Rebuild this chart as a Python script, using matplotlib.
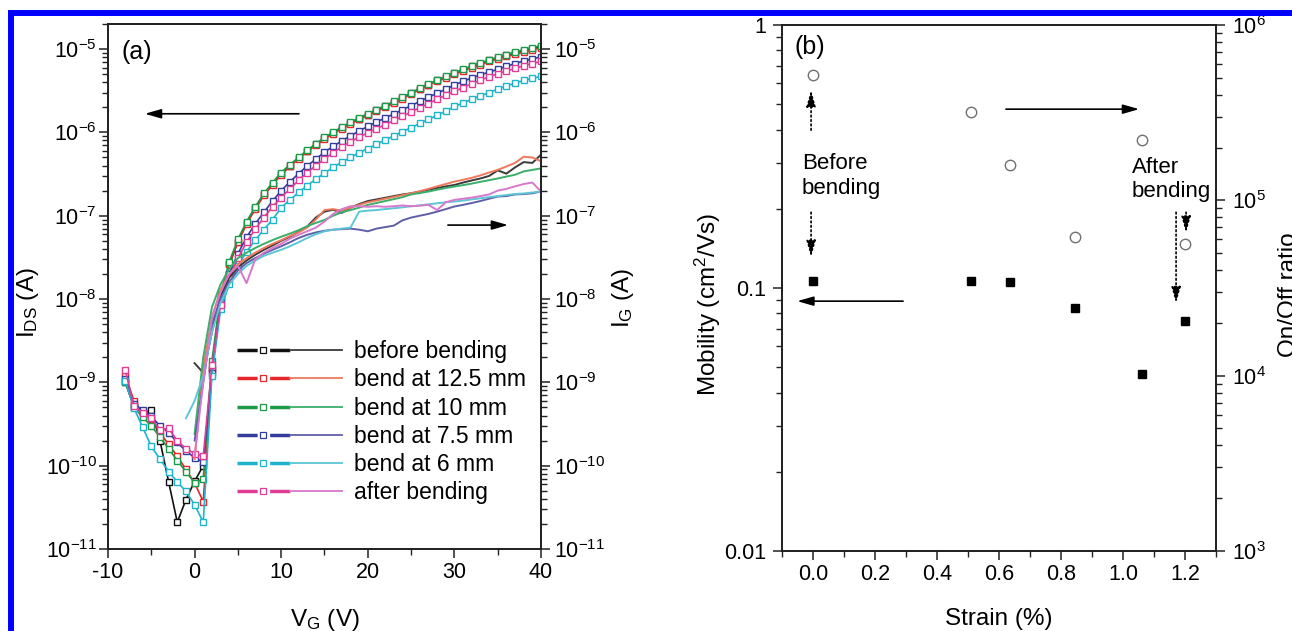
"""Transfer curves under bending (a) and mobility / on-off ratio vs strain (b)."""

import matplotlib

matplotlib.use("Agg")
import matplotlib.pyplot as plt
import numpy as np
from matplotlib.legend_handler import HandlerTuple
from matplotlib.lines import Line2D
from matplotlib.patches import Rectangle
from matplotlib.ticker import (
    FixedLocator,
    FuncFormatter,
    LogFormatterMathtext,
    LogLocator,
    MultipleLocator,
    NullFormatter,
)

plt.rcParams["font.family"] = ["Liberation Sans", "DejaVu Sans"]
plt.rcParams["mathtext.fontset"] = "custom"
plt.rcParams["mathtext.rm"] = "Liberation Sans"
plt.rcParams["mathtext.it"] = "Liberation Sans:italic"
plt.rcParams["mathtext.bf"] = "Liberation Sans:bold"
plt.rcParams["mathtext.default"] = "regular"
plt.rcParams["axes.unicode_minus"] = False

# ---- panel (a): I_DS and I_G vs V_G ----
vg_ds = list(range(-8, 41))
vg_ig = list(range(-1, 41))
series_labels = [
    "before bending",
    "bend at 12.5 mm",
    "bend at 10 mm",
    "bend at 7.5 mm",
    "bend at 6 mm",
    "after bending",
]

ids_before = [1.0e-9, 5.1e-10, 4.3e-10, 4.6e-10, 2.0e-10, 6.4e-11, 2.1e-11, 3.9e-11, 6.5e-11, 1.0e-10,
              1.5e-9, 1.05e-8, 2.6e-8, 4.9e-8, 8.1e-8, 1.23e-7, 1.8e-7, 2.4e-7, 3.2e-7, 4.0e-7,
              4.9e-7, 6.0e-7, 7.2e-7, 8.5e-7, 9.9e-7, 1.13e-6, 1.29e-6, 1.46e-6, 1.64e-6, 1.84e-6,
              2.05e-6, 2.3e-6, 2.6e-6, 2.95e-6, 3.35e-6, 3.75e-6, 4.2e-6, 4.65e-6, 5.1e-6, 5.6e-6,
              6.2e-6, 6.7e-6, 7.3e-6, 7.8e-6, 8.4e-6, 8.9e-6, 9.5e-6, 1.01e-5, 1.07e-5]
ids_12p5 = [1.2e-9, 6.0e-10, 4.4e-10, 3.6e-10, 2.5e-10, 1.8e-10, 1.3e-10, 9.0e-11, 6.2e-11, 3.7e-11,
            1.4e-9, 1.0e-8, 2.6e-8, 4.8e-8, 8.0e-8, 1.2e-7, 1.75e-7, 2.35e-7, 3.1e-7, 3.9e-7,
            4.8e-7, 5.9e-7, 7.0e-7, 8.3e-7, 9.7e-7, 1.11e-6, 1.27e-6, 1.43e-6, 1.61e-6, 1.8e-6,
            2.0e-6, 2.25e-6, 2.55e-6, 2.9e-6, 3.3e-6, 3.7e-6, 4.1e-6, 4.55e-6, 5.0e-6, 5.5e-6,
            6.0e-6, 6.5e-6, 7.1e-6, 7.6e-6, 8.2e-6, 8.7e-6, 9.3e-6, 9.8e-6, 1.04e-5]
ids_10 = [1.0e-9, 5.0e-10, 3.8e-10, 3.0e-10, 2.2e-10, 1.6e-10, 1.15e-10, 8.5e-11, 6.2e-11, 7.0e-11,
          1.8e-9, 1.15e-8, 2.8e-8, 5.2e-8, 8.5e-8, 1.28e-7, 1.85e-7, 2.5e-7, 3.3e-7, 4.1e-7,
          5.0e-7, 6.1e-7, 7.3e-7, 8.7e-7, 1.01e-6, 1.16e-6, 1.32e-6, 1.5e-6, 1.68e-6, 1.88e-6,
          2.1e-6, 2.35e-6, 2.65e-6, 3.0e-6, 3.4e-6, 3.8e-6, 4.25e-6, 4.7e-6, 5.2e-6, 5.7e-6,
          6.3e-6, 6.8e-6, 7.4e-6, 8.0e-6, 8.6e-6, 9.2e-6, 9.8e-6, 1.04e-5, 1.1e-5]
ids_7p5 = [1.1e-9, 5.5e-10, 4.6e-10, 3.9e-10, 3.0e-10, 2.5e-10, 1.9e-10, 1.5e-10, 1.25e-10, 1.1e-10,
           1.3e-9, 9.0e-9, 2.0e-8, 3.5e-8, 5.5e-8, 8.0e-8, 1.1e-7, 1.5e-7, 2.0e-7, 2.55e-7,
           3.2e-7, 3.95e-7, 4.8e-7, 5.8e-7, 6.8e-7, 7.9e-7, 9.1e-7, 1.04e-6, 1.18e-6, 1.33e-6,
           1.49e-6, 1.67e-6, 1.87e-6, 2.1e-6, 2.35e-6, 2.65e-6, 2.95e-6, 3.3e-6, 3.7e-6, 4.1e-6,
           4.5e-6, 4.9e-6, 5.3e-6, 5.7e-6, 6.2e-6, 6.7e-6, 7.2e-6, 7.6e-6, 8.1e-6]
ids_6 = [1.05e-9, 4.9e-10, 2.9e-10, 1.7e-10, 1.2e-10, 8.5e-11, 6.4e-11, 4.9e-11, 3.4e-11, 2.1e-11,
         1.2e-9, 7.5e-9, 1.5e-8, 2.5e-8, 3.7e-8, 5.1e-8, 6.8e-8, 9.0e-8, 1.25e-7, 1.55e-7,
         1.9e-7, 2.3e-7, 2.75e-7, 3.25e-7, 3.8e-7, 4.4e-7, 5.0e-7, 5.7e-7, 6.4e-7, 7.2e-7,
         8.1e-7, 9.1e-7, 1.02e-6, 1.14e-6, 1.28e-6, 1.43e-6, 1.6e-6, 1.8e-6, 2.05e-6, 2.25e-6,
         2.5e-6, 2.75e-6, 3.0e-6, 3.3e-6, 3.6e-6, 3.9e-6, 4.2e-6, 4.45e-6, 4.7e-6]
ids_after = [1.4e-9, 5.2e-10, 4.3e-10, 3.7e-10, 2.7e-10, 2.8e-10, 2.0e-10, 1.6e-10, 1.4e-10, 1.3e-10,
             1.6e-9, 8.5e-9, 1.8e-8, 3.1e-8, 4.8e-8, 6.9e-8, 9.5e-8, 1.28e-7, 1.65e-7, 2.1e-7,
             2.65e-7, 3.3e-7, 4.0e-7, 4.8e-7, 5.7e-7, 6.7e-7, 7.7e-7, 8.8e-7, 9.9e-7, 1.11e-6,
             1.24e-6, 1.39e-6, 1.56e-6, 1.76e-6, 1.98e-6, 2.22e-6, 2.5e-6, 2.8e-6, 3.1e-6, 3.45e-6,
             3.85e-6, 4.25e-6, 4.65e-6, 5.05e-6, 5.45e-6, 5.85e-6, 6.3e-6, 6.7e-6, 7.1e-6]

nan = float("nan")
ig_before = [nan, 1.7e-9, 1.3e-9, 4e-9, 1.1e-8, 1.8e-8, 2.4e-8, 2.9e-8, 3.4e-8, 3.9e-8, 4.4e-8,
             5.0e-8, 5.6e-8, 6.4e-8, 7.4e-8, 9.5e-8, 1.12e-7, 1.18e-7, 1.08e-7, 1.25e-7, 1.38e-7,
             1.5e-7, 1.57e-7, 1.64e-7, 1.72e-7, 1.8e-7, 1.86e-7, 1.95e-7, 2.05e-7, 2.15e-7, 2.25e-7,
             2.34e-7, 2.5e-7, 2.65e-7, 2.8e-7, 3.0e-7, 3.5e-7, 3.2e-7, 3.8e-7, 4.4e-7, 4.3e-7, 5.4e-7]
ig_12p5 = [nan, 1.2e-10, 1.5e-9, 6e-9, 1.3e-8, 2.0e-8, 2.6e-8, 3.1e-8, 3.6e-8, 4.1e-8, 4.6e-8,
           5.1e-8, 5.7e-8, 6.3e-8, 7.2e-8, 9.0e-8, 1.17e-7, 1.2e-7, 1.15e-7, 1.25e-7, 1.35e-7,
           1.45e-7, 1.52e-7, 1.6e-7, 1.68e-7, 1.77e-7, 1.86e-7, 1.97e-7, 2.1e-7, 2.25e-7, 2.4e-7,
           2.57e-7, 2.7e-7, 2.85e-7, 3.05e-7, 3.3e-7, 3.55e-7, 3.9e-7, 4.3e-7, 5.1e-7, 5.0e-7, 4.5e-7]
ig_10 = [nan, 2.4e-10, 2e-9, 8e-9, 1.5e-8, 2.3e-8, 3.1e-8, 3.6e-8, 4.1e-8, 4.6e-8, 5.1e-8,
         5.6e-8, 6.1e-8, 6.7e-8, 7.5e-8, 8.2e-8, 8.9e-8, 1.0e-7, 1.1e-7, 1.17e-7, 1.25e-7,
         1.35e-7, 1.42e-7, 1.5e-7, 1.58e-7, 1.67e-7, 1.8e-7, 1.87e-7, 1.95e-7, 2.05e-7, 2.15e-7,
         2.24e-7, 2.33e-7, 2.43e-7, 2.55e-7, 2.67e-7, 2.8e-7, 2.95e-7, 3.1e-7, 3.4e-7, 3.55e-7, 3.7e-7]
ig_7p5 = [nan, 2e-10, 1e-9, 5e-9, 1.0e-8, 1.6e-8, 2.2e-8, 2.7e-8, 3.1e-8, 3.5e-8, 3.9e-8,
          4.3e-8, 4.8e-8, 5.4e-8, 5.9e-8, 6.3e-8, 6.6e-8, 6.8e-8, 6.9e-8, 7.0e-8, 6.8e-8,
          6.5e-8, 7.0e-8, 7.3e-8, 7.6e-8, 8.8e-8, 9.5e-8, 1.0e-7, 1.05e-7, 1.12e-7, 1.2e-7,
          1.29e-7, 1.35e-7, 1.42e-7, 1.5e-7, 1.6e-7, 1.7e-7, 1.72e-7, 1.8e-7, 1.82e-7, 1.86e-7, 1.95e-7]
ig_6 = [3.7e-10, 6e-10, 1.2e-9, 4e-9, 9e-9, 1.5e-8, 2.0e-8, 2.5e-8, 2.9e-8, 3.3e-8, 3.6e-8,
        3.9e-8, 4.3e-8, 4.8e-8, 5.4e-8, 6.0e-8, 6.5e-8, 6.8e-8, 7.0e-8, 7.2e-8, 1.12e-7,
        1.15e-7, 1.17e-7, 1.2e-7, 1.23e-7, 1.26e-7, 1.3e-7, 1.33e-7, 1.37e-7, 1.41e-7, 1.45e-7,
        1.48e-7, 1.52e-7, 1.57e-7, 1.62e-7, 1.67e-7, 1.72e-7, 1.77e-7, 1.82e-7, 1.85e-7, 1.9e-7, 1.95e-7]
ig_after = [nan, 1.3e-10, 1e-9, 6e-9, 1.2e-8, 2.0e-8, 2.5e-8, 1.55e-8, 3.0e-8, 3.6e-8, 4.1e-8,
            4.6e-8, 5.3e-8, 5.9e-8, 6.5e-8, 7.2e-8, 8.5e-8, 1.05e-7, 1.2e-7, 1.3e-7, 1.3e-7,
            1.28e-7, 1.3e-7, 1.28e-7, 1.3e-7, 1.33e-7, 1.3e-7, 1.32e-7, 1.35e-7, 1.17e-7, 1.45e-7,
            1.55e-7, 1.6e-7, 1.65e-7, 1.72e-7, 1.8e-7, 2.0e-7, 2.1e-7, 2.25e-7, 2.4e-7, 2.5e-7, 1.95e-7]

ids_all = [ids_before, ids_12p5, ids_10, ids_7p5, ids_6, ids_after]
ig_all = [ig_before, ig_12p5, ig_10, ig_7p5, ig_6, ig_after]
ids_colors = ["#111111", "#e5262b", "#1c9a48", "#343c9c", "#1eb4cc", "#e03c96"]
ig_colors = ["#3a3a3a", "#f0785a", "#3aae6a", "#5f5fa8", "#5cc6d6", "#d778cc"]

# ---- panel (b): mobility and on/off ratio vs strain ----
strain = [0.0, 0.51, 0.635, 0.846, 1.06, 1.2]
mobility = [0.106, 0.106, 0.105, 0.084, 0.047, 0.075]
on_off = [5.2e5, 3.2e5, 1.6e5, 6.2e4, 2.2e5, 5.6e4]

W, H = 1292, 631
fig = plt.figure(figsize=(W / 100, H / 100), dpi=100)
ax_a = fig.add_axes([108 / W, 1 - 549 / H, 433 / W, 525 / H])
ax_a2 = ax_a.twinx()
ax_b = fig.add_axes([782 / W, 1 - 551 / H, 434 / W, 526 / H])
ax_b2 = ax_b.twinx()

for color, vals in zip(ids_colors, ids_all):
    ax_a.plot(vg_ds, vals, color=color, lw=1.2, marker="s", ms=5, mfc="white",
              mec=color, mew=1.0)
for color, vals in zip(ig_colors, ig_all):
    ax_a2.plot(vg_ig, vals, color=color, lw=1.4)

for ax in (ax_a, ax_a2):
    ax.set_yscale("log")
    ax.set_ylim(1e-11, 2e-5)
    ax.yaxis.set_major_locator(LogLocator(base=10, numticks=20))
    ax.yaxis.set_minor_locator(LogLocator(base=10, subs=np.arange(2, 10), numticks=20))
    ax.yaxis.set_major_formatter(LogFormatterMathtext())
    ax.yaxis.set_minor_formatter(NullFormatter())
ax_a.set_xlim(-10, 40)
ax_a.xaxis.set_major_locator(MultipleLocator(10))
ax_a.xaxis.set_minor_locator(MultipleLocator(5))

ax_b.plot(strain, mobility, ls="none", marker="s", ms=6, color="black")
ax_b2.plot(strain, on_off, ls="none", marker="o", ms=7.5, mfc="none", mec="#707070", mew=1.0)
ax_b.set_yscale("log")
ax_b.set_ylim(0.01, 1)
ax_b.yaxis.set_major_locator(FixedLocator([0.01, 0.1, 1]))
ax_b.yaxis.set_minor_locator(LogLocator(base=10, subs=np.arange(2, 10), numticks=20))
ax_b.yaxis.set_major_formatter(FuncFormatter(lambda v, p: f"{v:g}"))
ax_b.yaxis.set_minor_formatter(NullFormatter())
ax_b2.set_yscale("log")
ax_b2.set_ylim(1e3, 1e6)
ax_b2.yaxis.set_major_locator(LogLocator(base=10, numticks=20))
ax_b2.yaxis.set_minor_locator(LogLocator(base=10, subs=np.arange(2, 10), numticks=20))
ax_b2.yaxis.set_major_formatter(LogFormatterMathtext())
ax_b2.yaxis.set_minor_formatter(NullFormatter())
ax_b.set_xlim(-0.1, 1.3)
ax_b.xaxis.set_major_locator(MultipleLocator(0.2))
ax_b.xaxis.set_minor_locator(MultipleLocator(0.1))
ax_b.xaxis.set_major_formatter(FuncFormatter(lambda v, p: f"{v:.1f}"))

for ax in (ax_a, ax_a2, ax_b, ax_b2):
    for sp in ax.spines.values():
        sp.set_linewidth(1.3)
        sp.set_color("#222222")
    ax.tick_params(which="major", direction="out", length=6.5, width=1.1,
                   labelsize=15.5, color="#222222")
    ax.tick_params(which="minor", direction="out", length=4, width=1.0, color="#222222")
ax_a.tick_params(axis="y", pad=1.5)
ax_a.tick_params(axis="x", pad=3)
ax_a2.tick_params(axis="y", pad=3)
ax_b.tick_params(axis="y", pad=5)
ax_b.tick_params(axis="x", pad=3)
ax_b2.tick_params(axis="y", pad=5)

ax_a.set_xlabel("V$_G$ (V)", fontsize=17.5)
ax_a.xaxis.set_label_coords(0.5, -0.110)
ax_a.set_ylabel("I$_{DS}$ (A)", fontsize=17.5)
ax_a.yaxis.set_label_coords(-0.155, 0.47)
ax_a2.set_ylabel("I$_G$ (A)", fontsize=17.5)
ax_a2.yaxis.set_label_coords(1.159, 0.478)
ax_b.set_xlabel("Strain (%)", fontsize=17.5)
ax_b.xaxis.set_label_coords(0.5, -0.108)
ax_b.set_ylabel("Mobility (cm$^2$/Vs)", fontsize=17.5)
ax_b.yaxis.set_label_coords(-0.136, 0.468)
ax_b2.set_ylabel("On/Off ratio", fontsize=17.5)
ax_b2.yaxis.set_label_coords(1.142, 0.487)

# panel (a) annotations
ax_a.text(0.032, 0.947, "(a)", transform=ax_a.transAxes, fontsize=18, ha="left", va="center")
solid_arrow = dict(arrowstyle="-|>,head_length=0.7,head_width=0.2", lw=1.2, color="black",
                   mutation_scale=14, shrinkA=0, shrinkB=0)
dotted_arrow = dict(solid_arrow, ls=":")
ax_a.annotate("", xy=(0.085, 0.829), xytext=(0.441, 0.829), xycoords="axes fraction",
              arrowprops=solid_arrow)
ax_a.annotate("", xy=(0.924, 0.617), xytext=(0.785, 0.617), xycoords="axes fraction",
              arrowprops=solid_arrow)

handles = []
for c1, c2 in zip(ids_colors, ig_colors):
    h1 = Line2D([], [], color=c1, lw=2.5, ls=(0, (5.8, 3.6)), marker="s", ms=4,
                mfc="white", mec=c1, mew=0.9)
    h2 = Line2D([], [], color=c2, lw=1.3)
    handles.append((h1, h2))
ax_a2.legend(handles, series_labels, handler_map={tuple: HandlerTuple(ndivide=None, pad=0)},
             loc="upper left", bbox_to_anchor=(0.298, 0.398), bbox_transform=ax_a.transAxes,
             frameon=False, fontsize=16.5, handlelength=4.6, handletextpad=0.5,
             labelspacing=0.23, borderpad=0, borderaxespad=0, numpoints=1)

# panel (b) annotations
ax_b.text(0.028, 0.958, "(b)", transform=ax_b.transAxes, fontsize=18, ha="left", va="center")
ax_b.text(0.046, 0.713, "Before\nbending", transform=ax_b.transAxes, fontsize=16,
          ha="left", va="center", linespacing=1.2)
ax_b.text(0.806, 0.707, "After\nbending", transform=ax_b.transAxes, fontsize=16,
          ha="left", va="center", linespacing=1.2)
for xy, xytext, props in [
    ((0.067, 0.876), (0.067, 0.800), dotted_arrow),
    ((0.067, 0.559), (0.067, 0.644), dotted_arrow),
    ((0.823, 0.840), (0.516, 0.840), solid_arrow),
    ((0.035, 0.475), (0.279, 0.475), solid_arrow),
    ((0.931, 0.605), (0.931, 0.644), dotted_arrow),
    ((0.908, 0.471), (0.908, 0.644), dotted_arrow),
]:
    ax_b.annotate("", xy=xy, xytext=xytext, xycoords="axes fraction", arrowprops=props)

# blue frame of the cropped figure
fig.patches.append(Rectangle((11.4 / W, -0.2), 2.0, 1.2 - 12.5 / H, transform=fig.transFigure,
                             fill=False, edgecolor="#0000ff", lw=4.3, clip_on=False))

fig.savefig("out.png", dpi=100)
